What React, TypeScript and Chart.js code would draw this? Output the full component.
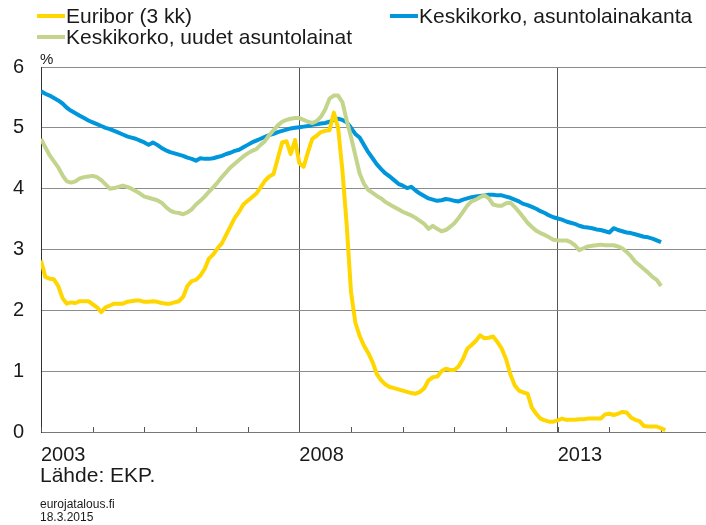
import React, { useEffect, useRef } from "react";
import { Chart, registerables } from "chart.js";

Chart.register(...registerables);

// Monthly series starting January 2003
const startYear = 2003;

const euribor = [
  2.82, 2.55, 2.52, 2.51, 2.40, 2.20, 2.11, 2.13, 2.12, 2.15, 2.15, 2.15,
  2.10, 2.05, 1.97, 2.05, 2.08, 2.11, 2.11, 2.11, 2.14, 2.15, 2.16, 2.16,
  2.14, 2.14, 2.15, 2.14, 2.12, 2.11, 2.11, 2.13, 2.15, 2.22, 2.40, 2.48,
  2.50, 2.57, 2.68, 2.85, 2.92, 3.02, 3.10, 3.24, 3.38, 3.52, 3.62, 3.74,
  3.80, 3.86, 3.92, 4.02, 4.13, 4.20, 4.24, 4.50, 4.76, 4.78, 4.57, 4.80,
  4.42, 4.36, 4.60, 4.82, 4.87, 4.93, 4.95, 4.96, 5.25, 5.00, 4.30, 3.40,
  2.30, 1.80, 1.58, 1.42, 1.30, 1.15, 0.95, 0.85, 0.78, 0.74, 0.72, 0.70,
  0.68, 0.66, 0.64, 0.63, 0.66, 0.72, 0.85, 0.90, 0.91, 1.00, 1.04, 1.02,
  1.02, 1.08, 1.20, 1.37, 1.43, 1.50, 1.59, 1.54, 1.55, 1.57, 1.48, 1.37,
  1.20, 0.95, 0.77, 0.68, 0.65, 0.63, 0.40, 0.30, 0.22, 0.19, 0.17, 0.17,
  0.19, 0.22, 0.20, 0.20, 0.20, 0.21, 0.21, 0.22, 0.22, 0.22, 0.22, 0.29,
  0.30, 0.28, 0.30, 0.33, 0.32, 0.24, 0.20, 0.18, 0.10, 0.09, 0.09, 0.09,
  0.06, 0.03,
];

const kanta = [
  5.60, 5.56, 5.53, 5.49, 5.45, 5.40, 5.33, 5.28, 5.24, 5.20, 5.16, 5.12,
  5.09, 5.06, 5.03, 5.00, 4.98, 4.95, 4.92, 4.89, 4.86, 4.84, 4.82, 4.79,
  4.76, 4.72, 4.76, 4.72, 4.67, 4.63, 4.60, 4.58, 4.56, 4.54, 4.51, 4.49,
  4.46, 4.50, 4.49, 4.49, 4.50, 4.52, 4.54, 4.57, 4.59, 4.62, 4.64, 4.68,
  4.72, 4.76, 4.79, 4.82, 4.85, 4.88, 4.90, 4.93, 4.95, 4.97, 4.99, 5.00,
  5.01, 5.02, 5.03, 5.05, 5.06, 5.07, 5.08, 5.10, 5.13, 5.15, 5.13, 5.09,
  5.00, 4.90, 4.84, 4.72, 4.60, 4.50, 4.40, 4.32, 4.25, 4.20, 4.14, 4.08,
  4.05, 4.01, 4.03, 3.97, 3.92, 3.88, 3.84, 3.82, 3.80, 3.81, 3.83, 3.82,
  3.80, 3.79, 3.82, 3.84, 3.86, 3.87, 3.88, 3.89, 3.90, 3.90, 3.89, 3.89,
  3.87, 3.85, 3.82, 3.79, 3.75, 3.73, 3.70, 3.67, 3.63, 3.60, 3.56, 3.53,
  3.51, 3.49, 3.46, 3.44, 3.42, 3.39, 3.37, 3.36, 3.35, 3.33, 3.32, 3.30,
  3.28, 3.35, 3.32, 3.30, 3.28, 3.27, 3.25, 3.23, 3.21, 3.20, 3.18, 3.15,
  3.12,
];

const uudet = [
  4.82, 4.68, 4.55, 4.45, 4.35, 4.22, 4.12, 4.10, 4.12, 4.17, 4.19, 4.20,
  4.21, 4.19, 4.14, 4.07, 4.00, 4.01, 4.03, 4.05, 4.03, 4.00, 3.96, 3.92,
  3.87, 3.85, 3.83, 3.81, 3.77, 3.70, 3.64, 3.61, 3.60, 3.58, 3.61, 3.66,
  3.74, 3.80, 3.87, 3.95, 4.02, 4.10, 4.19, 4.27, 4.35, 4.41, 4.47, 4.53,
  4.58, 4.62, 4.65, 4.72, 4.78, 4.88, 4.96, 5.04, 5.10, 5.13, 5.15, 5.16,
  5.16, 5.13, 5.10, 5.08, 5.11, 5.18, 5.30, 5.48, 5.53, 5.53, 5.42, 5.12,
  4.85, 4.55, 4.25, 4.08, 3.98, 3.93, 3.88, 3.84, 3.78, 3.74, 3.70, 3.66,
  3.62, 3.59, 3.56, 3.52, 3.47, 3.42, 3.34, 3.39, 3.34, 3.30, 3.32, 3.37,
  3.43, 3.52, 3.62, 3.72, 3.79, 3.82, 3.86, 3.89, 3.84, 3.74, 3.72, 3.72,
  3.76, 3.77, 3.70, 3.62, 3.53, 3.44, 3.37, 3.31, 3.27, 3.24, 3.20, 3.16,
  3.15, 3.15, 3.15, 3.12, 3.07, 2.99, 3.02, 3.05, 3.06, 3.07, 3.08, 3.07,
  3.07, 3.07, 3.05, 3.02, 2.96, 2.89, 2.80, 2.74, 2.68, 2.62, 2.55, 2.50,
  2.40,
];

const yearTicks = [2003, 2004, 2005, 2006, 2007, 2008, 2009, 2010, 2011, 2012, 2013, 2014, 2015];
const labelledYears = [2003, 2008, 2013];
const majorYears = [2008, 2013];
const yTicks = [0, 1, 2, 3, 4, 5, 6];

const seriesNames = ["Euribor (3 kk)", "Keskikorko, asuntolainakanta", "Keskikorko, uudet asuntolainat"];
const footerSource = "Lähde: EKP.";
const footerSite = "eurojatalous.fi";
const footerDate = "18.3.2015";

const COLORS = { euribor: "#ffd600", kanta: "#0096db", uudet: "#c3d48c" };
const FONT = "'Liberation Sans', Arial, sans-serif";
const TEXT = "#1a1a1a";

const toPoints = (arr: number[]) => arr.map((v, i) => ({ x: startYear + i / 12, y: v }));

export default function App() {
  const ref = useRef<HTMLCanvasElement | null>(null);

  useEffect(() => {
    document.body.style.margin = "0";
    const canvas = ref.current;
    if (!canvas) return;

    const overlay = {
      id: "overlay",
      beforeDatasetsDraw(chart: any) {
        const { ctx, scales } = chart;
        const x = scales.x;
        const bottom = chart.chartArea.bottom;
        ctx.save();
        ctx.strokeStyle = "#555";
        ctx.lineWidth = 1;
        yearTicks.forEach((yr) => {
          const px = Math.round(x.getPixelForValue(yr)) + 0.5;
          ctx.beginPath();
          ctx.moveTo(px, bottom);
          ctx.lineTo(px, bottom - 5);
          ctx.stroke();
        });
        ctx.restore();
      },
      afterDraw(chart: any) {
        const { ctx } = chart;
        ctx.save();
        ctx.fillStyle = TEXT;
        ctx.textBaseline = "alphabetic";
        ctx.textAlign = "left";
        const legend = [
          { color: COLORS.euribor, x: 37, y: 16, text: seriesNames[0] },
          { color: COLORS.uudet, x: 37, y: 37, text: seriesNames[2] },
          { color: COLORS.kanta, x: 390, y: 16, text: seriesNames[1] },
        ];
        ctx.font = `21px ${FONT}`;
        legend.forEach((l) => {
          ctx.strokeStyle = l.color;
          ctx.lineWidth = 4;
          ctx.beginPath();
          ctx.moveTo(l.x, l.y);
          ctx.lineTo(l.x + 28, l.y);
          ctx.stroke();
          ctx.fillText(l.text, l.x + 29, l.y + 7);
        });
        ctx.font = `15px ${FONT}`;
        ctx.fillText("%", 40, 64);
        ctx.font = `21px ${FONT}`;
        ctx.fillText(footerSource, 40, 482);
        ctx.font = `12px ${FONT}`;
        ctx.fillText(footerSite, 40, 508);
        ctx.fillText(footerDate, 40, 521);
        ctx.restore();
      },
    };

    const chart = new Chart(canvas, {
      type: "line",
      data: {
        datasets: [
          {
            label: seriesNames[0],
            data: toPoints(euribor),
            borderColor: COLORS.euribor,
            borderWidth: 4,
            pointRadius: 0,
            order: 0,
          },
          {
            label: seriesNames[2],
            data: toPoints(uudet),
            borderColor: COLORS.uudet,
            borderWidth: 4,
            pointRadius: 0,
            order: 1,
          },
          {
            label: seriesNames[1],
            data: toPoints(kanta),
            borderColor: COLORS.kanta,
            borderWidth: 4,
            pointRadius: 0,
            order: 2,
          },
        ],
      },
      options: {
        responsive: false,
        animation: false,
        devicePixelRatio: 1,
        layout: { padding: { top: 67, left: 0, right: 0, bottom: 0 } },
        elements: { line: { borderJoinStyle: "round", tension: 0 } },
        plugins: { legend: { display: false }, tooltip: { enabled: false } },
        scales: {
          x: {
            type: "linear",
            min: 2003,
            max: 2015.87,
            afterBuildTicks: (scale: any) => {
              scale.ticks = yearTicks.map((v) => ({ value: v }));
            },
            afterFit: (scale: any) => {
              scale.height = 93;
            },
            ticks: {
              autoSkip: false,
              maxRotation: 0,
              align: "start",
              padding: 11,
              color: TEXT,
              font: { family: FONT, size: 20 },
              callback: (v: any) => (labelledYears.includes(Number(v)) ? String(v) : ""),
            },
            grid: {
              drawTicks: false,
              color: (c: any) =>
                c.tick && majorYears.includes(c.tick.value) ? "#555" : "rgba(0,0,0,0)",
              lineWidth: 1,
            },
            border: { display: true, color: "#777", width: 1 },
          },
          y: {
            min: 0,
            max: 6,
            afterBuildTicks: (scale: any) => {
              scale.ticks = yTicks.map((v) => ({ value: v }));
            },
            afterFit: (scale: any) => {
              scale.width = 41;
            },
            ticks: {
              padding: 17,
              color: TEXT,
              font: { family: FONT, size: 20 },
              callback: (v: any) => String(v),
            },
            grid: { drawTicks: false, color: "#8c8c8c", lineWidth: 1 },
            border: { display: true, color: "#333", width: 1 },
          },
        },
      },
      plugins: [overlay],
    } as any);

    return () => chart.destroy();
  }, []);

  return (
    <div style={{ width: 706, height: 525, position: "relative" }}>
      <canvas ref={ref} width={706} height={525} style={{ display: "block" }} />
    </div>
  );
}
